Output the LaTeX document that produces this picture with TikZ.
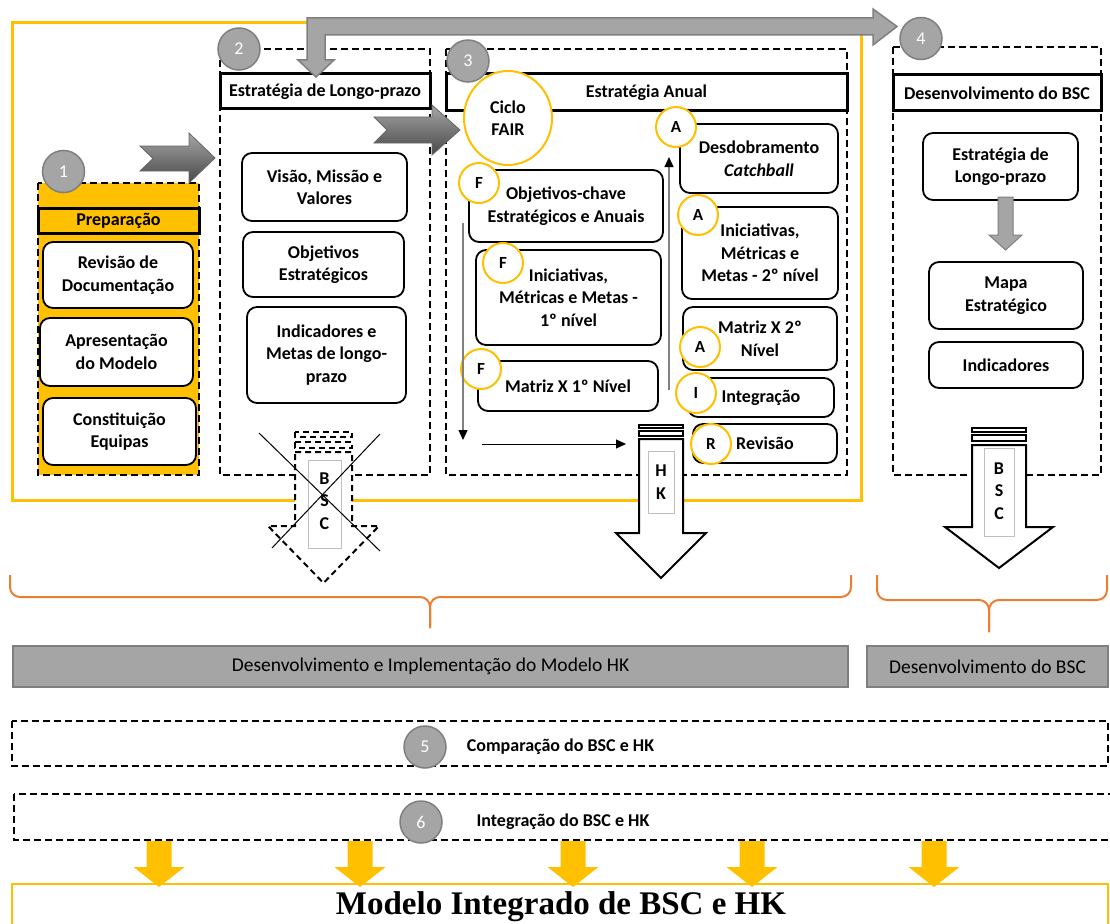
\documentclass[tikz,border=0pt]{standalone}
\usepackage{fontspec}
\setmainfont{Carlito}
\newfontfamily\serifbold{Liberation Serif}
\usetikzlibrary{arrows.meta,shapes.geometric}

\definecolor{amarelo}{HTML}{FFC000}
\definecolor{laranja}{HTML}{ED7D31}
\definecolor{cinza}{HTML}{A5A5A5}
\definecolor{cinzaesc}{HTML}{7F7F7F}

\tikzset{
  caixa/.style={draw, line width=1.8, rounded corners=10, fill=white, align=center,
    inner sep=1, font=\fontsize{18}{22.5}\selectfont\bfseries},
  fase/.style={line width=2.6, dash pattern=on 7 off 4},
  cabecalho/.style={draw, line width=3, fill=white, inner sep=0,
    font=\fontsize{18}{22}\selectfont\bfseries},
  numero/.style={circle, draw=cinzaesc, line width=1.5, fill=cinza, text=white,
    minimum size=42, inner sep=0, font=\fontsize{18}{18}\selectfont},
  letra/.style={circle, draw=amarelo, line width=2, fill=white, minimum size=40,
    inner sep=0, font=\fontsize{17}{17}\selectfont\bfseries},
  fluxo/.style={draw=gray, line width=1.3,
    -{Triangle[black,length=10,width=9]}},
  chevron/.style={top color=black!35, bottom color=black!72, draw=black!60, line width=0.8},
  faixa/.style={draw=cinzaesc, line width=2, fill=cinza, inner sep=0,
    font=\fontsize{19.5}{20}\selectfont},
  rotulo/.style={font=\fontsize{18}{22.5}\selectfont\bfseries, align=center, inner sep=0},
}

\begin{document}
\begin{tikzpicture}[x=1pt,y=-1pt]
\useasboundingbox (0,0) rectangle (1110,923);

% moldura
\draw[amarelo, line width=3] (12,23) rectangle (861,500);

% fases 1 a 4
\filldraw[fase, fill=amarelo] (38,183) rectangle (199,475);
\draw[fase] (220,49) rectangle (430,475);
\draw[fase] (446,49) rectangle (847,475);
\draw[fase] (893,47) rectangle (1101,475);

\node[cabecalho, fill=amarelo, minimum width=161, minimum height=25] (hprep) at (118.5,220.5) {Preparação};
\node[cabecalho, minimum width=210, minimum height=35] (hlongo) at (325,91.5) {Estratégia de Longo-prazo};
\node[cabecalho, minimum width=401, minimum height=37] (hanual) at (646.5,92.5) {Estratégia Anual};
\node[cabecalho, minimum width=208, minimum height=36] (hbsc) at (997,93) {Desenvolvimento do BSC};

% preparacao
\node[caixa, minimum width=150, minimum height=66] (rev) at (118,275) {Revisão de\\Documentação};
\node[caixa, minimum width=153, minimum height=68] (apr) at (116.5,352) {Apresentação\\do Modelo};
\node[caixa, minimum width=153, minimum height=67] (con) at (119.5,431.5) {Constituição\\Equipas};

% longo prazo
\node[caixa, minimum width=165, minimum height=68] (vis) at (324.5,187) {Visão, Missão e\\Valores};
\node[caixa, minimum width=161, minimum height=65] (obj) at (323.5,264.5) {Objetivos\\Estratégicos};
\node[caixa, minimum width=159, minimum height=96] (ind) at (326.5,355) {Indicadores e\\Metas de longo-\\prazo};

% anual
\node[caixa, minimum width=194, minimum height=72] (okey) at (566,206) {Objetivos-chave\\Estratégicos e Anuais};
\node[caixa, minimum width=185, minimum height=95] (ini1) at (568.5,297.5) {Iniciativas,\\Métricas e Metas -\\1º nível};
\node[caixa, minimum width=180, minimum height=50] (mx1) at (568,386) {Matriz X 1º Nível};
\node[caixa, minimum width=158, minimum height=69] (desd) at (759,158.5) {Desdobramento\\\textit{Catchball}};
\node[caixa, minimum width=156, minimum height=92] (ini2) at (760,253) {Iniciativas,\\Métricas e\\Metas - 2º nível};
\node[caixa, minimum width=154, minimum height=63] (mx2) at (760,338.5) {Matriz X 2º\\Nível};
\node[caixa, minimum width=146, minimum height=39] (integ) at (761,397.5) {Integração};
\node[caixa, minimum width=144, minimum height=39] (revi) at (765,443.5) {Revisão};

\node[letra] (fa) at (479,183) {F};
\node[letra] (fb) at (503,263) {F};
\node[letra] (fc) at (481,369) {F};
\node[letra] (aa) at (676,127) {A};
\node[letra] (ab) at (698,215) {A};
\node[letra] (ac) at (700,347) {A};
\node[letra] (ia) at (696,393) {I};
\node[letra] (ra) at (711,444) {R};

\node[ellipse, draw=amarelo, line width=2, fill=white, minimum width=88, minimum height=94,
  rotulo] (fair) at (508,118) {Ciclo\\FAIR};

\coordinate (d0) at (463,223);
\coordinate (d1) at (463,440);
\coordinate (h0) at (482,444);
\coordinate (h1) at (626,444);
\coordinate (u0) at (669,390);
\coordinate (u1) at (669,157);
\draw[fluxo] (d0) -- (d1);
\draw[fluxo, draw=black, line width=1] (h0) -- (h1);
\draw[fluxo] (u0) -- (u1);

% BSC
\node[caixa, minimum width=155, minimum height=67] (elp) at (1000.5,166.5) {Estratégia de\\Longo-prazo};
\node[caixa, minimum width=154, minimum height=67] (mapa) at (1006,295.5) {Mapa\\Estratégico};
\node[caixa, minimum width=154, minimum height=46] (indic) at (1006,365) {Indicadores};
\filldraw[fill=cinza, draw=cinzaesc, line width=1] (998,197) -- (1013,197) -- (1013,235)
  -- (1022,235) -- (1005.5,250) -- (989,235) -- (998,235) -- cycle;

% numeros
\node[numero] (n1) at (63.5,171.5) {1};
\node[numero] (n2) at (239,49) {2};
\node[numero] (n3) at (468,61) {3};
\node[numero] (n4) at (921,38.5) {4};

% setas entre fases
\shadedraw[chevron] (140,146) -- (189,146) -- (189,133) -- (215,158) -- (189,183)
  -- (189,171) -- (140,171) -- (153,158.5) -- cycle;
\shadedraw[chevron] (374,117) -- (432,117) -- (432,105) -- (460,130) -- (432,155)
  -- (432,143) -- (374,143) -- (387,130) -- cycle;
\filldraw[fill=cinza, draw=cinzaesc, line width=1.5] (307,18) -- (873,18) -- (873,9)
  -- (897,26.5) -- (873,45) -- (873,35) -- (325,35) -- (325,60) -- (334,60)
  -- (316,77) -- (298,60) -- (307,60) -- cycle;

% seta BSC cancelada
\begin{scope}[line width=2, dash pattern=on 6 off 4, fill=white]
  \filldraw (295,432) rectangle (352,437);
  \filldraw (295,442) rectangle (352,448);
  \filldraw (295,452) -- (352,452) -- (352,526) -- (379,526) -- (323.5,583)
    -- (268,526) -- (295,526) -- cycle;
\end{scope}
\draw[black!25, fill=white] (308,460) rectangle (341,548);
\node[rotulo] (bscx) at (324.5,501) {B\\S\\C};
\draw[line width=1] (259,433) -- (380,551);
\draw[line width=1] (380,434) -- (272,548);

% seta HK
\begin{scope}[line width=2, fill=white]
  \filldraw (639,425) rectangle (683,428);
  \filldraw (639,431) rectangle (683,436);
  \filldraw (639,439) -- (683,439) -- (683,533) -- (706,533) -- (661,578)
    -- (616,533) -- (639,533) -- cycle;
\end{scope}
\draw[black!25, fill=white] (648,451) rectangle (674,513);
\node[rotulo] (hk) at (661,482) {H\\K};

% seta BSC
\begin{scope}[line width=2, fill=white]
  \filldraw (972,428) rectangle (1026,432);
  \filldraw (972,435) rectangle (1026,441);
  \filldraw (972,445) -- (1026,445) -- (1026,527) -- (1053,527) -- (999,568)
    -- (945,527) -- (972,527) -- cycle;
\end{scope}
\draw[black!25, fill=white] (984,448) rectangle (1014,536);
\node[rotulo] (bsc) at (999,491) {B\\S\\C};

% chavetas
\draw[laranja, line width=2, rounded corners=10] (10,575) -- (10,597) -- (430,597) -- (430,628);
\draw[laranja, line width=2, rounded corners=10] (851,575) -- (851,597) -- (430,597) -- (430,628);
\draw[laranja, line width=2, rounded corners=10] (877,575) -- (877,600) -- (989,600) -- (989,632);
\draw[laranja, line width=2, rounded corners=10] (1107,575) -- (1107,600) -- (989,600) -- (989,632);

\node[faixa, minimum width=835, minimum height=41] (fhk) at (430.5,666.5) {Desenvolvimento e Implementação do Modelo HK};
\node[faixa, minimum width=241, minimum height=41] (fbsc) at (987.5,666.5) {Desenvolvimento do BSC};

% fases 5 e 6
\draw[fase, line width=2] (12,721) rectangle (1108,766);
\draw[fase, line width=2] (14,794) rectangle (1118,840);
\node[numero] (n5) at (425,747) {5};
\node[numero] (n6) at (421,822) {6};
\node[rotulo] (comp) at (560.5,747) {Comparação do BSC e HK};
\node[rotulo] (integr) at (563,822) {Integração do BSC e HK};

% modelo integrado
\draw[amarelo, line width=2] (12,884) rectangle (1108,940);
\foreach \x in {159,360,573,752,934}
  \fill[amarelo] (\x-12.5,841) -- (\x+12.5,841) -- (\x+12.5,867) -- (\x+25.5,867)
    -- (\x,887) -- (\x-25.5,867) -- (\x-12.5,867) -- cycle;
\node[anchor=base, inner sep=0, font=\serifbold\bfseries\fontsize{33}{34}\selectfont] (modelo)
  at (561,914) {Modelo Integrado de BSC e HK};
\end{tikzpicture}
\end{document}
